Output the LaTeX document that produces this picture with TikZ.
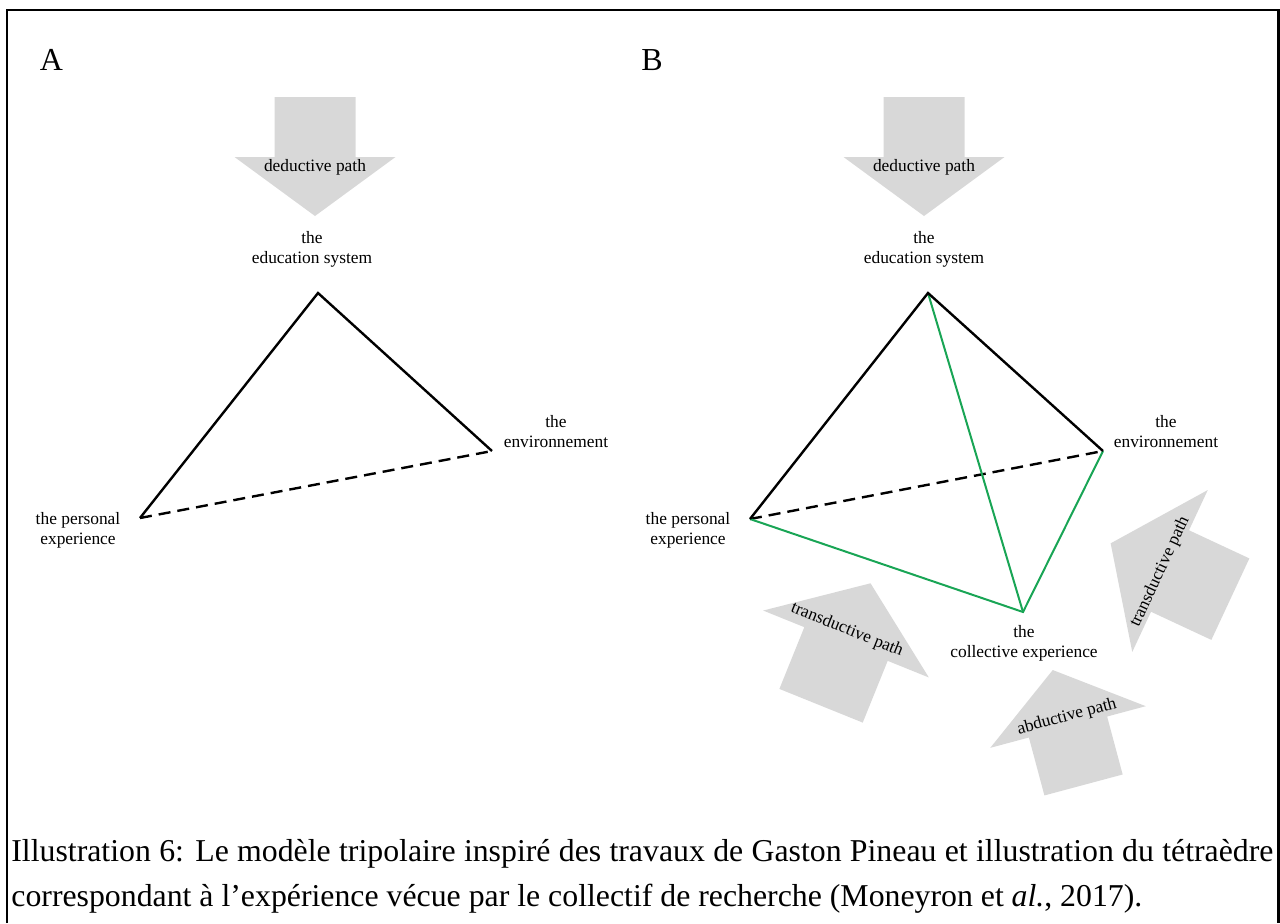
\documentclass[tikz,border=0pt]{standalone}
\usepackage{fontspec}
\setmainfont{Liberation Serif}
\usetikzlibrary{positioning}
\definecolor{pathgrey}{RGB}{216,216,216}
\definecolor{collgreen}{RGB}{25,165,85}
\tikzset{
    tripolar/.style={
            x=0.5pt,y=-0.5pt,
            edge/.style={line width=1.2pt,line join=miter},
            hidden/.style={edge,dash pattern=on 6pt off 3.5pt},
            colledge/.style={line width=1pt,draw=collgreen},
            pole/.style={inner sep=0pt,align=center,font=\fontsize{8.7}{10}\selectfont},
            pathtext/.style={inner sep=0pt,font=\fontsize{8.7}{10}\selectfont},
            panel/.style={inner sep=0pt,font=\fontsize{16}{18}\selectfont},
            caption/.style={inner sep=0pt,text width=631pt,align=justify,
                    font=\fontsize{15.9}{22.5}\selectfont}
        },
    path arrow/.pic={
            \fill[pathgrey] (-40.5,60) -- (-40.5,0) -- (-80.5,0) -- (0,-59)
                -- (80.5,0) -- (40.5,0) -- (40.5,60) -- cycle;
        }
}

\begin{document}
\begin{tikzpicture}[tripolar]
    \useasboundingbox (0,0) rectangle (1280,923);
    \draw [line width=1.2pt] (7,923) -- (7,10) -- (1278.5,10) -- (1278.5,923);

    % panel A
    \node [panel, anchor=base] (panelA) at (51.5,70) {A};
    \pic [rotate=180] at (315,157) {path arrow};
    \node [pathtext] (dedA) at (315,167) {deductive path};

    \coordinate (eduA) at (318,293);
    \coordinate (perA) at (140,518);
    \coordinate (envA) at (492,451);
    \node [pole] (eduA label) at (312,249) {the\\education system};
    \node [pole] (perA label) at (78,530) {the personal\\experience};
    \node [pole] (envA label) at (556,432) {the\\environnement};

    \draw [edge] (perA) -- (eduA) -- (envA);
    \draw [hidden] (perA) -- (envA);

    % panel B
    \node [panel, anchor=base] (panelB) at (652,70) {B};
    \pic [rotate=180] at (924,157) {path arrow};
    \node [pathtext] (dedB) at (924,167) {deductive path};
    \pic [rotate=-22, scale=1.11] at (846,644) {path arrow};
    \node [pathtext, rotate=-22] (transL) at (847,630) {transductive path};
    \pic [rotate=65, scale=1.11] at (1170,571) {path arrow};
    \node [pathtext, rotate=65] (transR) at (1160,572) {transductive path};
    \pic [rotate=15] at (1068,727) {path arrow};
    \node [pathtext, rotate=15] (abd) at (1067,717) {abductive path};

    \coordinate (eduB) at (928,293);
    \coordinate (perB) at (750,519);
    \coordinate (envB) at (1103,451);
    \coordinate (colB) at (1023,612);
    \node [pole] (eduB label) at (924,249) {the\\education system};
    \node [pole] (perB label) at (688,530) {the personal\\experience};
    \node [pole] (envB label) at (1166,432) {the\\environnement};
    \node [pole] (colB label) at (1024,643) {the\\collective experience};

    \draw [hidden] (perB) -- (envB);
    \draw [colledge] (perB) -- (colB) -- (envB);
    \draw [colledge] (eduB) -- (colB);
    \draw [edge] (perB) -- (eduB) -- (envB);

    % caption
    \node [caption, anchor=base west] (caption) at (11,861) {Illustration 6: Le modèle tripolaire inspiré des travaux de Gaston Pineau et illustration du tétraèdre\linebreak correspondant à l’expérience vécue par le collectif de recherche (Moneyron et \textit{al.}, 2017).};
\end{tikzpicture}
\end{document}
